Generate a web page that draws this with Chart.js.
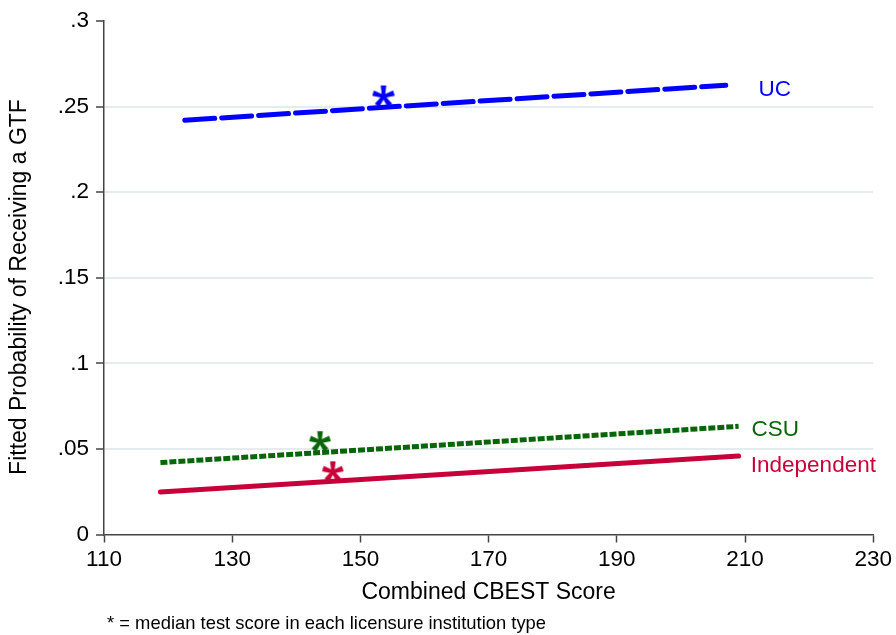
<!DOCTYPE html>
<html>
<head>
<meta charset="utf-8">
<script src="https://cdn.jsdelivr.net/npm/chart.js@4.4.1/dist/chart.umd.min.js"></script>
<style>
  html, body { margin: 0; padding: 0; background: #ffffff; }
  #c { display: block; }
</style>
</head>
<body>
<canvas id="c" width="896" height="635"></canvas>
<script>
// ---------- data ----------
const seriesNames = ['UC', 'CSU', 'Independent'];
const xTickValues = [110, 130, 150, 170, 190, 210, 230];
const yTickLabels = ['0', '.05', '.1', '.15', '.2', '.25', '.3'];

// fitted line end points (CBEST score, probability)
const ucScores = [122.6, 207.0];
const ucProb = [0.2420, 0.2625];
const csuScores = [118.8, 209.0];
const csuProb = [0.0420, 0.0632];
const indScores = [118.8, 209.0];
const indProb = [0.0248, 0.0458];

// median test score markers (*)
const medianScores = [153.6, 143.7, 145.7];
const medianProb = [0.2559, 0.0542, 0.0366];

// series text labels (data units)
const labelX = [212.1, 211.0, 210.9];
const labelY = [0.2597, 0.0611, 0.0400];

const footnote = '* = median test score in each licensure institution type';
const xTitle = 'Combined CBEST Score';
const yTitle = 'Fitted Probability of Receiving a GTF';

// ---------- styles ----------
const colors = ['#0000ff', '#0a650a', '#c8003a'];
const FONT = '"Liberation Sans", Arial, Helvetica, sans-serif';

function toPoints(xs, ys) { return xs.map((x, i) => ({ x: x, y: ys[i] })); }

function makeAsterisk(color, r) {
  const s = Math.ceil(2 * r + 8);
  const c = document.createElement('canvas');
  c.width = s; c.height = s;
  const g = c.getContext('2d');
  g.fillStyle = color;
  const cx = s / 2, cy = s / 2;
  for (let k = 0; k < 5; k++) {
    const a = -Math.PI / 2 + k * 2 * Math.PI / 5;
    const px = -Math.sin(a), py = Math.cos(a);
    const w0 = 1.5, w1 = 2.8;
    g.beginPath();
    g.moveTo(cx + px * w0, cy + py * w0);
    g.lineTo(cx + r * Math.cos(a) + px * w1, cy + r * Math.sin(a) + py * w1);
    g.lineTo(cx + r * Math.cos(a) - px * w1, cy + r * Math.sin(a) - py * w1);
    g.lineTo(cx - px * w0, cy - py * w0);
    g.closePath();
    g.fill();
  }
  g.beginPath(); g.arc(cx, cy, 2.2, 0, Math.PI * 2); g.fill();
  return c;
}
const starImages = [makeAsterisk(colors[0], 11), makeAsterisk(colors[1], 10.5), makeAsterisk(colors[2], 10.5)];

const textPlugin = {
  id: 'textPlugin',
  afterDraw(chart) {
    const ctx = chart.ctx;
    const xs = chart.scales.x, ys = chart.scales.y;
    ctx.save();
    ctx.font = '22.5px ' + FONT;
    ctx.textAlign = 'left';
    ctx.textBaseline = 'middle';
    seriesNames.forEach((n, i) => {
      ctx.fillStyle = colors[i];
      ctx.fillText(n, xs.getPixelForValue(labelX[i]), ys.getPixelForValue(labelY[i]));
    });
    ctx.fillStyle = '#000';
    // x axis title
    ctx.font = '23px ' + FONT;
    ctx.textAlign = 'center';
    ctx.fillText(xTitle, (chart.chartArea.left + chart.chartArea.right) / 2, 593);
    // y axis title
    ctx.save();
    ctx.translate(20, 287);
    ctx.rotate(-Math.PI / 2);
    ctx.font = '23px ' + FONT;
    ctx.fillText(yTitle, 0, 0);
    ctx.restore();
    // footnote
    ctx.font = '18.4px ' + FONT;
    ctx.textAlign = 'left';
    ctx.fillText(footnote, 107, 624);
    ctx.restore();
  }
};

const lineCommon = { showLine: true, pointRadius: 0, borderWidth: 5, fill: false, tension: 0 };

new Chart(document.getElementById('c'), {
  type: 'scatter',
  data: {
    datasets: [
      Object.assign({ label: seriesNames[0], data: toPoints(ucScores, ucProb), borderColor: colors[0],
        borderDash: [30, 7], borderCapStyle: 'round', order: 3 }, lineCommon),
      Object.assign({ label: seriesNames[1], data: toPoints(csuScores, csuProb), borderColor: colors[1],
        borderDash: [7, 2], borderCapStyle: 'butt', order: 2 }, lineCommon),
      Object.assign({ label: seriesNames[2], data: toPoints(indScores, indProb), borderColor: colors[2],
        borderCapStyle: 'round', order: 1 }, lineCommon),
      {
        label: 'median',
        data: toPoints(medianScores, medianProb),
        showLine: false,
        pointStyle: starImages,
        pointRadius: 10,
        order: 0
      }
    ]
  },
  options: {
    responsive: false,
    animation: false,
    events: [],
    layout: { padding: { left: 0, right: 21, top: 21, bottom: 0 } },
    plugins: { legend: { display: false }, tooltip: { enabled: false } },
    scales: {
      x: {
        type: 'linear',
        min: 110, max: 230,
        afterBuildTicks(scale) { scale.ticks = xTickValues.map(v => ({ value: v })); },
        afterFit(scale) { scale.height = 100.5; },
        border: { display: true, color: '#444', width: 1.5 },
        grid: { drawOnChartArea: false, drawTicks: true, tickLength: 8, tickColor: '#444', tickWidth: 1.5 },
        ticks: { color: '#000', font: { family: FONT, size: 22.5 }, padding: 4, maxRotation: 0 },
        title: { display: false }
      },
      y: {
        type: 'linear',
        min: 0, max: 0.3,
        ticks: {
          stepSize: 0.05,
          color: '#000', font: { family: FONT, size: 22.5 }, padding: 7,
          callback: (v, i) => yTickLabels[i]
        },
        afterFit(scale) { scale.width = 104; },
        border: { display: true, color: '#444', width: 1.5 },
        grid: {
          color: (ctx) => (ctx.index === 0 || ctx.index === 6) ? 'rgba(0,0,0,0)' : '#e4ecf0',
          lineWidth: 2,
          drawTicks: true, tickLength: 8, tickColor: '#444', tickWidth: 1.5
        },
        title: { display: false }
      }
    }
  },
  plugins: [textPlugin]
});
</script>
</body>
</html>
